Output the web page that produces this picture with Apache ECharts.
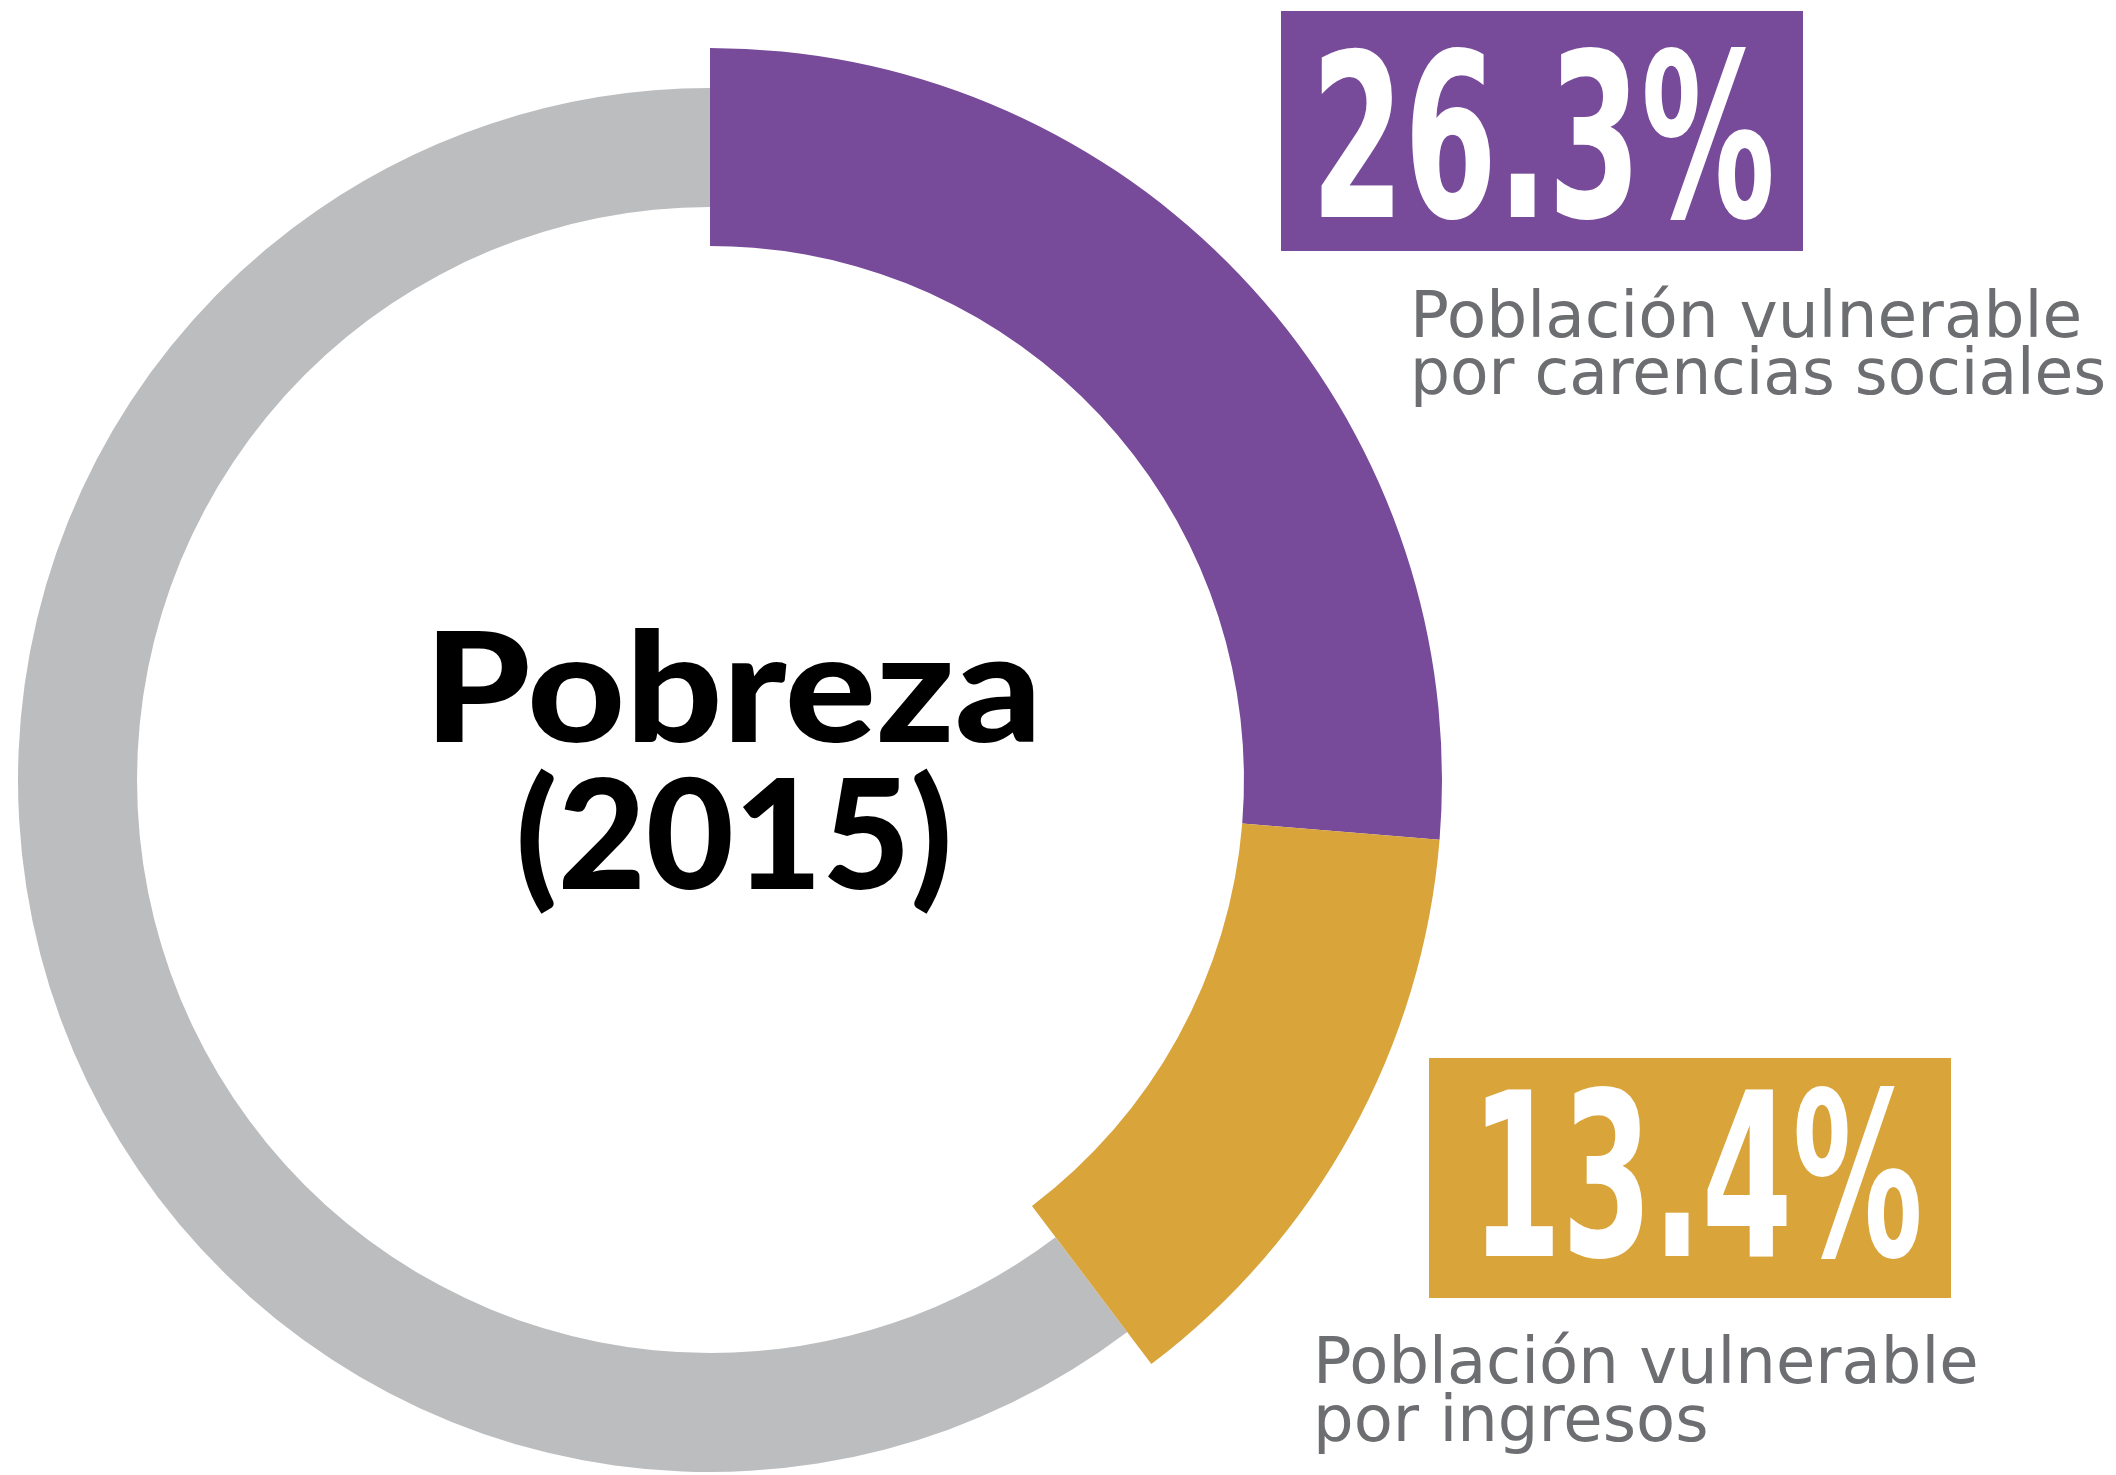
<!DOCTYPE html>
<html>
<head>
<meta charset="utf-8">
<title>Pobreza (2015)</title>
<script src="https://cdn.jsdelivr.net/npm/echarts@6/dist/echarts.min.js"></script>
<style>
  html, body { margin: 0; padding: 0; background: #fff; }
  #chart { width: 2116px; height: 1475px; }
</style>
</head>
<body>
<div id="chart"></div>
<script>
// datos
const categories = ['Población vulnerable por carencias sociales', 'Población vulnerable por ingresos', 'Resto']
const values = [26.3, 13.4, 60.3]
const valueLabels = ['26.3%', '13.4%']
const labelLines = [
  ['Población vulnerable', 'por carencias sociales'],
  ['Población vulnerable', 'por ingresos']
]
const centerTitle = ['Pobreza', '(2015)']

const PURPLE = '#774a9a'
const GOLD = '#d9a43a'
const GREY = '#bcbdbf'
const LABEL = '#6d6e71'
const colors = [PURPLE, GOLD, GREY]

const chart = echarts.init(document.getElementById('chart'))

function ringData(showIdx) {
  return values.map((v, i) => ({
    value: v,
    name: categories[i],
    itemStyle: { color: showIdx.indexOf(i) >= 0 ? colors[i] : 'rgba(0,0,0,0)' }
  }))
}

const pieBase = {
  type: 'pie',
  silent: true,
  center: [710, 780],
  startAngle: 90,
  clockwise: true,
  avoidLabelOverlap: false,
  label: { show: false },
  labelLine: { show: false },
  emphasis: { disabled: true }
}

const bigFont = 'bold 228px "DejaVu Sans Condensed", sans-serif'
const labelFont = '64px "DejaVu Sans", sans-serif'
const titleFont = '900 152px Lato, sans-serif'

function textEl(x, y, text, font, fill, extra) {
  return Object.assign({
    type: 'text', x: x, y: y,
    style: { text: text, fill: fill, font: font, textAlign: 'left', textVerticalAlign: 'middle' }
  }, extra || {})
}

chart.setOption({
  animation: false,
  series: [
    // anillo gris (resto)
    Object.assign({}, pieBase, { radius: [573, 692], data: ringData([2]) }),
    // anillo ancho para los dos grupos vulnerables
    Object.assign({}, pieBase, { radius: [534, 732], data: ringData([0, 1]) })
  ],
  graphic: [
    // caja morada
    { type: 'rect', shape: { x: 1281, y: 11, width: 522, height: 240 }, style: { fill: PURPLE } },
    {
      type: 'text', x: 1543, y: 158, scaleX: 0.652,
      style: { text: valueLabels[0], fill: '#fff', font: bigFont, textAlign: 'center', textVerticalAlign: 'middle' }
    },
    textEl(1410, 320, labelLines[0][0], labelFont, LABEL, { scaleX: 1.01 }),
    textEl(1410, 377, labelLines[0][1], labelFont, LABEL, { scaleX: 0.985 }),
    // caja dorada
    { type: 'rect', shape: { x: 1429, y: 1058, width: 522, height: 240 }, style: { fill: GOLD } },
    {
      type: 'text', x: 1697, y: 1197, scaleX: 0.635,
      style: { text: valueLabels[1], fill: '#fff', font: bigFont, textAlign: 'center', textVerticalAlign: 'middle' }
    },
    textEl(1313, 1366, labelLines[1][0], labelFont, LABEL, { scaleX: 1.0 }),
    textEl(1313, 1424, labelLines[1][1], labelFont, LABEL, { scaleX: 1.0 }),
    // titulo central
    {
      type: 'text', x: 733, y: 693, scaleX: 1.12,
      style: { text: centerTitle[0], fill: '#000', font: titleFont, textAlign: 'center', textVerticalAlign: 'middle' }
    },
    {
      type: 'text', x: 734, y: 840,
      style: { text: centerTitle[1], fill: '#000', font: titleFont, textAlign: 'center', textVerticalAlign: 'middle' }
    }
  ]
})
</script>
</body>
</html>
